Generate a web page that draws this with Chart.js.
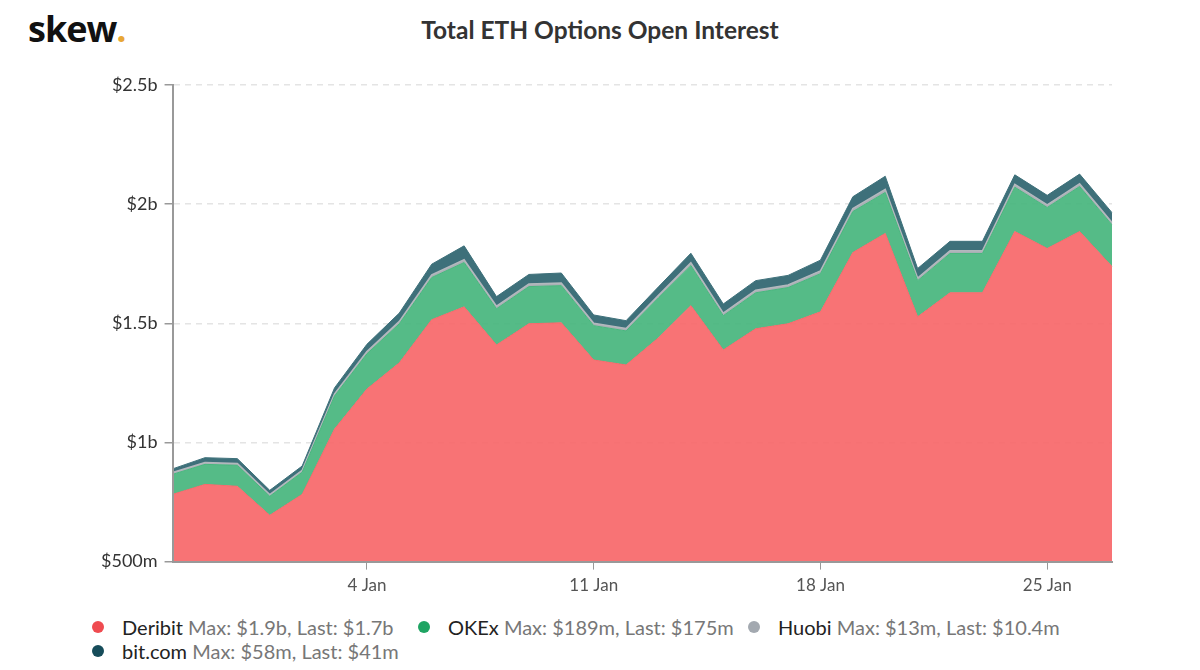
<!DOCTYPE html>
<html>
<head>
<meta charset="utf-8">
<script src="https://cdn.jsdelivr.net/npm/chart.js@4"></script>
<style>
  body { margin: 0; background: #fff; font-family: Lato, sans-serif; }
  #wrap { position: relative; width: 1200px; height: 670px; }
  #logo { position: absolute; left: 28px; top: 4px; font-family: "Open Sans", sans-serif; font-weight: 700; font-size: 36px; color: #111; letter-spacing: -1px; }
  #logo span { color: #e8a735; }
  #title { position: absolute; left: 0; width: 1200px; top: 15px; text-align: center; font-size: 24.5px; font-weight: 700; color: #333; }
  #chart-box { position: absolute; left: 0; top: 0; width: 1200px; height: 604px; }
  #legend { position: absolute; left: 0; top: 0; width: 1200px; font-size: 20px; }
  .item { position: absolute; white-space: nowrap; line-height: 24px; }
  .dot { position: absolute; left: -6px; top: 6px; width: 12px; height: 12px; border-radius: 50%; }
  .txt { position: absolute; left: 24px; top: 0; }
  .name { color: #222; }
  .stat { color: #777; }
</style>
</head>
<body>
<div id="wrap">
  <div id="logo">skew<span>.</span></div>
  <div id="title">Total ETH Options Open Interest</div>
  <div id="chart-box"><canvas id="line-chart" width="1200" height="604"></canvas></div>
  <div id="legend"></div>
</div>
<script>
var days = ['29 Dec','30 Dec','31 Dec','1 Jan','2 Jan','3 Jan','4 Jan','5 Jan','6 Jan','7 Jan',
  '8 Jan','9 Jan','10 Jan','11 Jan','12 Jan','13 Jan','14 Jan','15 Jan','16 Jan','17 Jan',
  '18 Jan','19 Jan','20 Jan','21 Jan','22 Jan','23 Jan','24 Jan','25 Jan','26 Jan','27 Jan'];
var shownTicks = ['4 Jan','11 Jan','18 Jan','25 Jan'];

// values in $m
var deribit = [782,824,816,694,782,1056,1224,1334,1515,1569,1409,1498,1502,1346,1325,1439,1574,1388,1477,1498,1548,1797,1877,1527,1628,1628,1885,1814,1885,1738];
var okex = [84,84,88,80,93,139,148,164,177,186,152,156,156,144,143,168,168,144,151,152,160,172,172,152,165,165,186,172,189,175];
var huobi = [8,8,8,7,8,9,10,10,11,12,11,11,11,10,10,11,12,11,11,11,12,13,13,11,11,11,12,11,12,10.4];
var bitcom = [15,20,20,18,18,25,30,35,45,58,40,40,42,35,33,35,40,38,40,40,45,49,55,40,40,40,40,40,40,41];

var legendItems = [
  { name: 'Deribit', dot: '#ef4b50', stat: 'Max: $1.9b, Last: $1.7b', x: 98, y: 615 },
  { name: 'OKEx', dot: '#1fa463', stat: 'Max: $189m, Last: $175m', x: 424, y: 615 },
  { name: 'Huobi', dot: '#a3a9b0', stat: 'Max: $13m, Last: $10.4m', x: 754, y: 615 },
  { name: 'bit.com', dot: '#164c5a', stat: 'Max: $58m, Last: $41m', x: 98, y: 639 }
];

function fmt(v) {
  if (v >= 1000) return '$' + (v / 1000) + 'b';
  return '$' + v + 'm';
}

function chart_set() {
  var chart = new Chart(document.getElementById("line-chart"), {
    type: 'line',
    data: {
      labels: days,
      datasets: [
        { label: 'Deribit', data: deribit, backgroundColor: 'rgba(248,104,107,0.93)', borderColor: 'rgba(248,104,107,1)', borderWidth: 1, fill: 'origin' },
        { label: 'OKEx', data: okex, backgroundColor: 'rgba(72,182,126,0.93)', borderColor: 'rgba(72,182,126,1)', borderWidth: 1, fill: '-1' },
        { label: 'Huobi', data: huobi, backgroundColor: 'rgba(170,176,182,1)', borderColor: '#b3b8bd', borderWidth: 1.5, fill: '-1' },
        { label: 'bit.com', data: bitcom, backgroundColor: 'rgba(62,112,122,1)', borderColor: '#3f717b', borderWidth: 1, fill: '-1' }
      ]
    },
    options: {
      responsive: false,
      animation: false,
      layout: { padding: { left: 94, right: 88, top: 85, bottom: 2 } },
      elements: { point: { radius: 0 }, line: { tension: 0 } },
      plugins: {
        legend: { display: false },
        title: { display: false },
        tooltip: { enabled: false }
      },
      scales: {
        x: {
          offset: false,
          grid: {
            display: true,
            drawOnChartArea: false,
            tickLength: 8,
            tickColor: function (c) { return (c.tick && shownTicks.indexOf(days[c.tick.value]) >= 0) ? '#999' : 'rgba(0,0,0,0)'; }
          },
          border: { color: '#999', width: 2, z: 1 },
          ticks: {
            autoSkip: false,
            maxRotation: 0,
            padding: 6,
            color: '#555',
            font: { family: 'Lato', size: 17 },
            callback: function (v) { var l = days[v]; return shownTicks.indexOf(l) >= 0 ? l : ''; }
          }
        },
        y: {
          stacked: true,
          min: 500,
          max: 2500,
          grid: { color: '#e4e4e4', tickColor: '#999', tickLength: 8, lineWidth: 1.5 },
          border: { color: '#999', width: 2, dash: [6, 5], z: 1 },
          ticks: {
            stepSize: 500,
            padding: 7,
            color: '#333',
            font: { family: 'Lato', size: 18 },
            callback: fmt
          }
        }
      }
    }
  });
}

function legend_set() {
  var box = document.getElementById('legend');
  var html = '';
  legendItems.forEach(function (it) {
    html += '<div class="item" style="left:' + it.x + 'px;top:' + it.y + 'px"><span class="dot" style="background:' + it.dot + '"></span>' +
      '<span class="txt"><span class="name">' + it.name + '</span> <span class="stat">' + it.stat + '</span></span></div>';
  });
  box.innerHTML = html;
}

chart_set();
legend_set();
</script>
</body>
</html>
